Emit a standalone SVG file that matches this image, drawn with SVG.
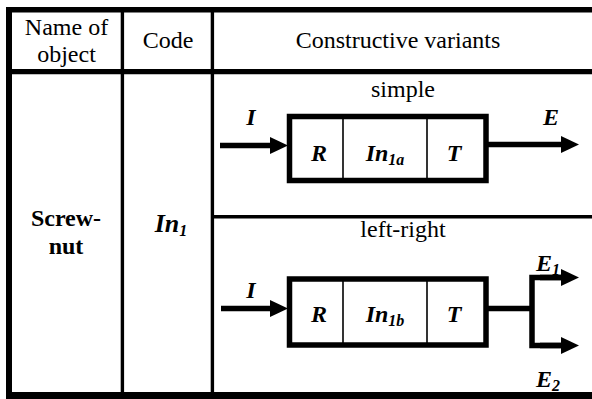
<svg xmlns="http://www.w3.org/2000/svg" width="592" height="399" viewBox="0 0 592 399">
<style>
.t{font-family:"Liberation Serif","Times New Roman",serif;fill:#000;text-anchor:middle}
.h{font-size:24px}
.b{font-size:24px;font-weight:bold}
.bi{font-size:24px;font-weight:bold;font-style:italic}
.bc{font-size:26px;font-weight:bold;font-style:italic}
.sub{font-size:16px}
.grid{stroke:#000;fill:none}
.box{fill:#fff;stroke:#000;stroke-width:5.5}
.div{stroke:#000;stroke-width:1.6}
.wire{stroke:#000;stroke-width:5.5;fill:none;stroke-linejoin:miter}
</style>
<defs>
<marker id="ah" markerUnits="userSpaceOnUse" markerWidth="18" markerHeight="17" refX="0" refY="8.5" orient="auto" viewBox="0 0 18 17">
<path d="M0,0 L18,8.5 L0,17 z" fill="#000"/>
</marker>
</defs>
<rect x="0" y="0" width="592" height="399" fill="#fff"/>
<g id="table">
<line class="grid" x1="6" y1="9.8" x2="592" y2="9.8" stroke-width="5.6"/>
<line class="grid" x1="9" y1="7" x2="9" y2="399" stroke-width="6"/>
<line class="grid" x1="6" y1="395.5" x2="592" y2="395.5" stroke-width="7"/>
<line class="grid" x1="9" y1="71.6" x2="592" y2="71.6" stroke-width="5.2"/>
<line class="grid" x1="122.4" y1="9" x2="122.4" y2="395" stroke-width="3.4"/>
<line class="grid" x1="212.4" y1="9" x2="212.4" y2="395" stroke-width="3.4"/>
<line class="grid" x1="212" y1="216.7" x2="592" y2="216.7" stroke-width="3.4"/>
</g>
<g id="headers">
<text class="t h" x="66.5" y="35">Name of</text>
<text class="t h" x="66.5" y="62">object</text>
<text class="t h" x="168" y="48">Code</text>
<text class="t h" x="398" y="48">Constructive variants</text>
</g>
<g id="object">
<text class="t b" x="66" y="226">Screw-</text>
<text class="t b" x="66" y="254">nut</text>
</g>
<g id="code">
<text class="t bc" x="171" y="232">In<tspan class="sub" dy="4">1</tspan></text>
</g>
<g id="variant-simple">
<text class="t h" x="403" y="97">simple</text>
<rect class="box" x="289.5" y="116.5" width="196.5" height="64"/>
<line class="div" x1="343" y1="116.5" x2="343" y2="180.5"/>
<line class="div" x1="427" y1="116.5" x2="427" y2="180.5"/>
<text class="t bi" x="319" y="161">R</text>
<text class="t bi" x="385" y="161">In<tspan class="sub" dy="4">1a</tspan></text>
<text class="t bi" x="454" y="161">T</text>
<text class="t bi" x="251" y="125">I</text>
<text class="t bi" x="551" y="125">E</text>
</g>
<g id="variant-left-right">
<text class="t h" x="403" y="237">left-right</text>
<rect class="box" x="289.5" y="279" width="196.5" height="66"/>
<line class="div" x1="343" y1="279" x2="343" y2="345"/>
<line class="div" x1="427" y1="279" x2="427" y2="345"/>
<text class="t bi" x="319" y="322">R</text>
<text class="t bi" x="385" y="322">In<tspan class="sub" dy="4">1b</tspan></text>
<text class="t bi" x="454" y="322">T</text>
<text class="t bi" x="251" y="298">I</text>
<text class="t bi" x="548" y="271">E<tspan class="sub" dy="4">1</tspan></text>
<text class="t bi" x="548" y="387">E<tspan class="sub" dy="4">2</tspan></text>
</g>
<g id="connectors">
<line class="wire" x1="220" y1="145.5" x2="270" y2="145.5" marker-end="url(#ah)"/>
<line class="wire" x1="486" y1="144.5" x2="561" y2="144.5" marker-end="url(#ah)"/>
<line class="wire" x1="221" y1="308.5" x2="270" y2="308.5" marker-end="url(#ah)"/>
<line class="wire" x1="486" y1="308.5" x2="532" y2="308.5"/>
<path class="wire" d="M561,277.5 H532 V345.5 H561"/>
<line class="wire" x1="540" y1="277.5" x2="561" y2="277.5" marker-end="url(#ah)"/>
<line class="wire" x1="540" y1="345.5" x2="561" y2="345.5" marker-end="url(#ah)"/>
</g>
</svg>
